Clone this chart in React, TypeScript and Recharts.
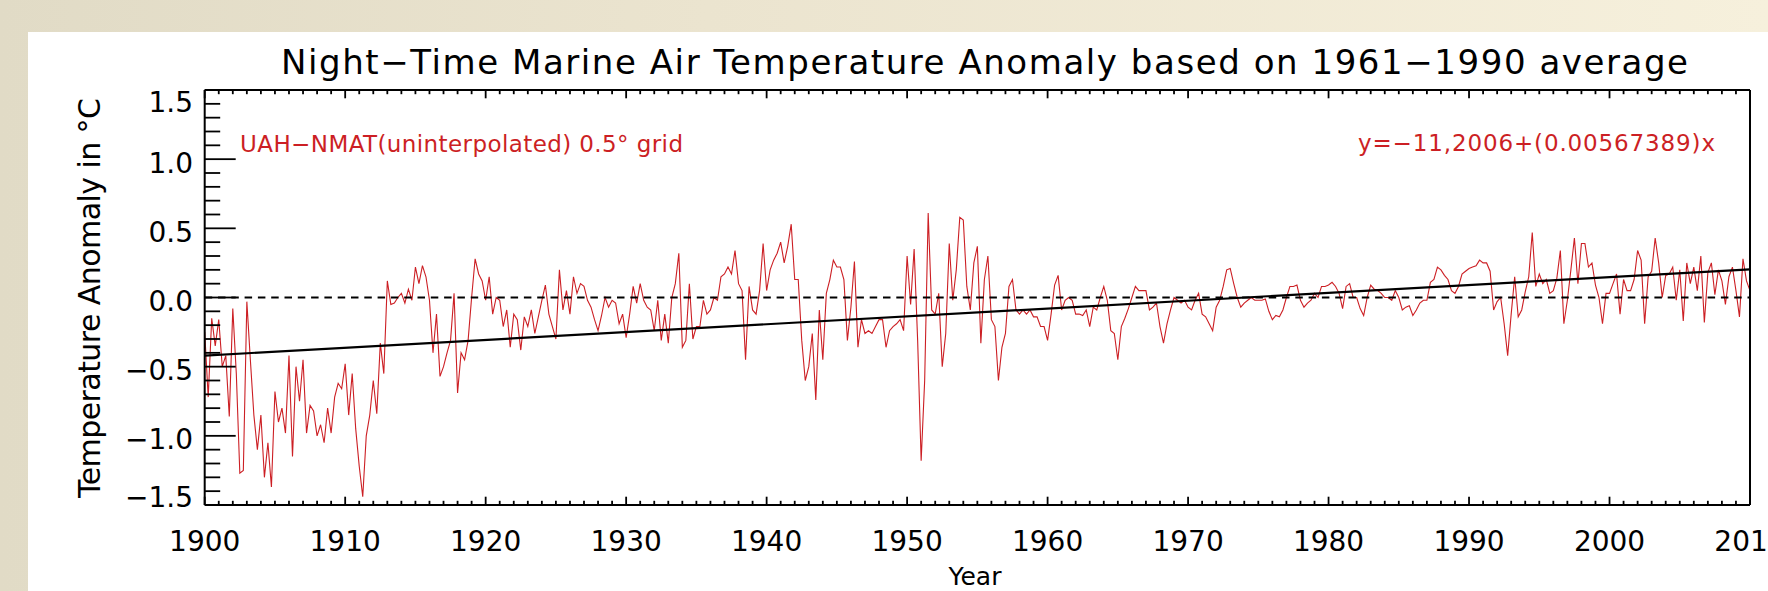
import { Line, LineChart, ReferenceLine, XAxis, YAxis } from "recharts";

// quarterly anomaly readings (°C), one array per decade, first value at Jan of the decade
const d1900 = [-0.25, -0.72, -0.15, -0.35, -0.16, -0.5, -0.42, -0.86, -0.08, -0.55, -1.27, -1.25, -0.03, -0.45, -0.85, -1.1, -0.85, -1.3, -1.05, -1.37, -0.68, -0.9, -0.8, -0.98, -0.42, -1.15, -0.5, -0.75, -0.45, -0.98, -0.78, -0.82, -1.0, -0.92, -1.05, -0.8, -0.98, -0.72, -0.62, -0.66];
const d1910 = [-0.48, -0.85, -0.55, -0.95, -1.22, -1.44, -1.0, -0.85, -0.6, -0.84, -0.33, -0.55, 0.12, -0.05, -0.04, 0.0, 0.03, -0.04, 0.06, -0.02, 0.22, 0.1, 0.23, 0.15, -0.02, -0.4, -0.12, -0.57, -0.5, -0.4, -0.31, 0.03, -0.69, -0.4, -0.45, -0.31, 0.0, 0.28, 0.17, 0.12];
const d1920 = [-0.02, 0.15, -0.12, 0.0, -0.02, -0.21, -0.09, -0.36, -0.12, -0.16, -0.38, -0.14, -0.21, -0.09, -0.26, -0.14, -0.02, 0.09, -0.12, -0.21, -0.3, 0.2, -0.09, 0.05, -0.12, 0.15, 0.03, 0.1, 0.08, -0.02, -0.07, -0.16, -0.24, -0.13, 0.0, -0.07, -0.02, -0.04, -0.19, -0.12];
const d1930 = [-0.29, -0.12, 0.08, -0.04, 0.1, -0.02, -0.07, -0.09, -0.24, -0.02, -0.31, -0.12, -0.33, 0.0, 0.1, 0.32, -0.36, -0.31, 0.1, -0.3, -0.21, -0.21, -0.02, -0.12, -0.09, 0.0, -0.02, 0.15, 0.17, 0.22, 0.17, 0.34, 0.1, 0.05, -0.45, 0.08, -0.09, -0.12, 0.05, 0.39];
const d1940 = [0.05, 0.2, 0.27, 0.32, 0.4, 0.25, 0.37, 0.53, 0.13, 0.13, -0.31, -0.6, -0.5, -0.26, -0.74, -0.09, -0.45, 0.03, 0.13, 0.27, 0.22, 0.22, 0.13, -0.31, -0.07, 0.26, -0.36, -0.16, -0.26, -0.24, -0.26, -0.21, -0.16, -0.16, -0.36, -0.24, -0.21, -0.19, -0.16, -0.24];
const d1950 = [0.3, -0.05, 0.35, -0.31, -1.18, -0.6, 0.61, -0.09, -0.12, 0.03, -0.5, -0.26, 0.39, -0.02, 0.2, 0.58, 0.56, 0.08, -0.09, 0.25, 0.37, -0.33, 0.13, 0.3, -0.16, -0.21, -0.6, -0.36, -0.26, 0.08, 0.13, -0.09, -0.12, -0.09, -0.12, -0.09, -0.14, -0.14, -0.21, -0.21];
const d1960 = [-0.31, -0.12, 0.09, 0.16, -0.09, -0.02, 0.0, -0.02, -0.12, -0.12, -0.13, -0.09, -0.21, -0.07, -0.09, 0.0, 0.08, -0.02, -0.24, -0.26, -0.45, -0.21, -0.15, -0.08, 0.0, 0.08, 0.05, 0.05, 0.05, -0.09, -0.07, -0.04, -0.21, -0.33, -0.19, -0.09, 0.0, -0.02, -0.04, -0.02];
const d1970 = [-0.07, -0.09, -0.02, 0.03, -0.12, -0.14, -0.19, -0.24, -0.07, -0.02, 0.08, 0.2, 0.21, 0.1, 0.0, -0.07, -0.04, -0.02, 0.0, -0.02, -0.02, -0.02, -0.01, -0.1, -0.16, -0.13, -0.14, -0.09, 0.0, 0.08, 0.08, 0.09, -0.02, -0.07, -0.04, -0.02, 0.03, 0.0, 0.08, 0.08];
const d1980 = [0.09, 0.11, 0.08, 0.03, -0.08, 0.08, 0.1, 0.0, 0.0, -0.08, -0.13, 0.0, 0.09, 0.06, 0.05, 0.03, 0.0, 0.0, -0.02, 0.05, 0.0, -0.09, -0.07, -0.06, -0.13, -0.09, -0.04, -0.02, -0.02, 0.11, 0.13, 0.22, 0.2, 0.16, 0.13, 0.05, 0.03, 0.08, 0.17, 0.19];
const d1990 = [0.21, 0.22, 0.23, 0.27, 0.25, 0.25, 0.19, -0.09, -0.03, 0.0, -0.19, -0.42, -0.12, 0.15, -0.14, -0.09, 0.04, 0.15, 0.47, 0.08, 0.17, 0.1, 0.13, 0.03, 0.05, 0.14, 0.34, -0.19, -0.02, 0.2, 0.43, 0.1, 0.39, 0.39, 0.22, 0.25, 0.09, 0.0, -0.19, 0.03];
const d2000 = [0.03, 0.1, 0.17, -0.12, 0.13, 0.05, 0.05, 0.13, 0.34, 0.27, -0.19, 0.15, 0.19, 0.43, 0.25, 0.0, 0.16, 0.17, 0.22, -0.02, 0.2, -0.17, 0.25, 0.1, 0.22, 0.05, 0.3, -0.18, 0.18, 0.25, 0.02, 0.2, 0.12, -0.05, 0.15, 0.22, 0.05, -0.14, 0.28, 0.12, 0.05];

const decadeStarts = [1900, 1910, 1920, 1930, 1940, 1950, 1960, 1970, 1980, 1990, 2000];
const decadeValues = [d1900, d1910, d1920, d1930, d1940, d1950, d1960, d1970, d1980, d1990, d2000];
const STEP = 0.25;

// linear fit printed on the chart
const FIT_A = -11.2006;
const FIT_B = 0.00567389;

const X_DOMAIN = [1900, 2010];
const Y_DOMAIN = [-1.5, 1.5];
const yearTicks = Array.from({ length: 111 }, (_, i) => 1900 + i);
const valueTicks = Array.from({ length: 31 }, (_, i) => (i - 15) / 10);

const chartData = decadeStarts.flatMap((start, d) =>
  decadeValues[d].map((v, i) => ({ year: start + i * STEP, anomaly: v }))
);

const FONT = "DejaVu Sans";
const RED = "#cc1f24";

const BottomTick = (props: any) => {
  const { x, y, payload } = props;
  const major = Math.round(payload.value) % 10 === 0;
  return (
    <g>
      <line x1={x} x2={x} y1={y} y2={y - (major ? 8.3 : 4.2)} stroke="#000" strokeWidth={1.8} />
      {major && (
        <text x={x} y={y + 45.7} textAnchor="middle" fontFamily={FONT} fontSize={28} fill="#000">
          {payload.value}
        </text>
      )}
    </g>
  );
};

const TopTick = (props: any) => {
  const { x, y, payload } = props;
  const major = Math.round(payload.value) % 10 === 0;
  return <line x1={x} x2={x} y1={y} y2={y + (major ? 8.3 : 4.2)} stroke="#000" strokeWidth={1.8} />;
};

const LeftTick = (props: any) => {
  const { x, y, payload } = props;
  const tenths = Math.round(payload.value * 10);
  const major = tenths % 5 === 0;
  // end labels are pulled inside the frame, as IDL does
  const dy = tenths === 15 ? 21.7 : tenths === -15 ? 1.7 : 13.4;
  const label = (tenths < 0 ? "\u2212" : "") + Math.abs(payload.value).toFixed(1);
  return (
    <g>
      <line x1={x} x2={x + (major ? 31 : 15.5)} y1={y} y2={y} stroke="#000" strokeWidth={1.8} />
      {major && (
        <text x={x - 11.7} y={y + dy} textAnchor="end" fontFamily={FONT} fontSize={28} fill="#000">
          {label}
        </text>
      )}
    </g>
  );
};

const RightTick = (props: any) => {
  const { x, y, payload } = props;
  const major = Math.round(payload.value * 10) % 5 === 0;
  return <line x1={x} x2={x - (major ? 31 : 15.5)} y1={y} y2={y} stroke="#000" strokeWidth={1.8} />;
};

export default function App() {
  return (
    <div
      style={{
        position: "absolute",
        left: 0,
        top: 0,
        width: 1768,
        height: 591,
        overflow: "hidden",
        background: "linear-gradient(90deg, #e1dbc6 0%, #ebe4cf 40%, #f6f0dc 100%)",
      }}
    >
      <div style={{ position: "absolute", left: 27.5, top: 32, right: 0, bottom: 0, background: "#fff" }} />
      <div style={{ position: "absolute", left: 0, top: 0 }}>
        <LineChart
          width={1768}
          height={591}
          data={chartData}
          margin={{ top: 89, right: 17, bottom: 85, left: 203.7 }}
        >
          <XAxis
            xAxisId="bottom"
            dataKey="year"
            type="number"
            domain={X_DOMAIN}
            ticks={yearTicks}
            interval={0}
            height={1}
            tickSize={0}
            tickMargin={0}
            tickLine={false}
            tick={BottomTick}
            axisLine={{ stroke: "#000", strokeWidth: 2 }}
          />
          <XAxis
            xAxisId="top"
            orientation="top"
            dataKey="year"
            type="number"
            domain={X_DOMAIN}
            ticks={yearTicks}
            interval={0}
            height={1}
            tickSize={0}
            tickMargin={0}
            tickLine={false}
            tick={TopTick}
            axisLine={{ stroke: "#000", strokeWidth: 2 }}
          />
          <YAxis
            yAxisId="left"
            type="number"
            domain={Y_DOMAIN}
            ticks={valueTicks}
            interval={0}
            width={1}
            tickSize={0}
            tickMargin={0}
            tickLine={false}
            tick={LeftTick}
            axisLine={{ stroke: "#000", strokeWidth: 2 }}
          />
          <YAxis
            yAxisId="right"
            orientation="right"
            type="number"
            domain={Y_DOMAIN}
            ticks={valueTicks}
            interval={0}
            width={1}
            tickSize={0}
            tickMargin={0}
            tickLine={false}
            tick={RightTick}
            axisLine={{ stroke: "#000", strokeWidth: 2 }}
          />
          <Line
            xAxisId="bottom"
            yAxisId="left"
            type="linear"
            dataKey="anomaly"
            stroke={RED}
            strokeWidth={1.1}
            dot={false}
            activeDot={false}
            isAnimationActive={false}
          />
          <ReferenceLine
            xAxisId="bottom"
            yAxisId="left"
            y={0}
            stroke="#000"
            strokeWidth={2}
            strokeDasharray="7.5 5.8"
          />
          <ReferenceLine
            xAxisId="bottom"
            yAxisId="left"
            segment={[
              { x: X_DOMAIN[0], y: FIT_A + FIT_B * X_DOMAIN[0] },
              { x: X_DOMAIN[1], y: FIT_A + FIT_B * X_DOMAIN[1] },
            ]}
            stroke="#000"
            strokeWidth={2.2}
          />
        </LineChart>
      </div>
      <svg
        width={1768}
        height={591}
        style={{ position: "absolute", left: 0, top: 0, pointerEvents: "none" }}
        fontFamily={FONT}
      >
        <text x={281} y={74} fontSize={34} fill="#000" textLength={1407} lengthAdjust="spacing">
          Night−Time Marine Air Temperature Anomaly based on 1961−1990 average
        </text>
        <text x={240} y={151.5} fontSize={23} fill={RED} textLength={443} lengthAdjust="spacing">
          UAH−NMAT(uninterpolated) 0.5° grid
        </text>
        <text x={1358} y={151} fontSize={23} fill={RED} textLength={357} lengthAdjust="spacing">
          y=−11,2006+(0.00567389)x
        </text>
        <text x={975} y={585} fontSize={25} fill="#000" textAnchor="middle">
          Year
        </text>
        <text
          x={100.3}
          y={298}
          fontSize={30}
          fill="#000"
          textAnchor="middle"
          transform="rotate(-90 100.3 298)"
          textLength={400}
          lengthAdjust="spacing"
        >
          Temperature Anomaly in °C
        </text>
      </svg>
    </div>
  );
}
